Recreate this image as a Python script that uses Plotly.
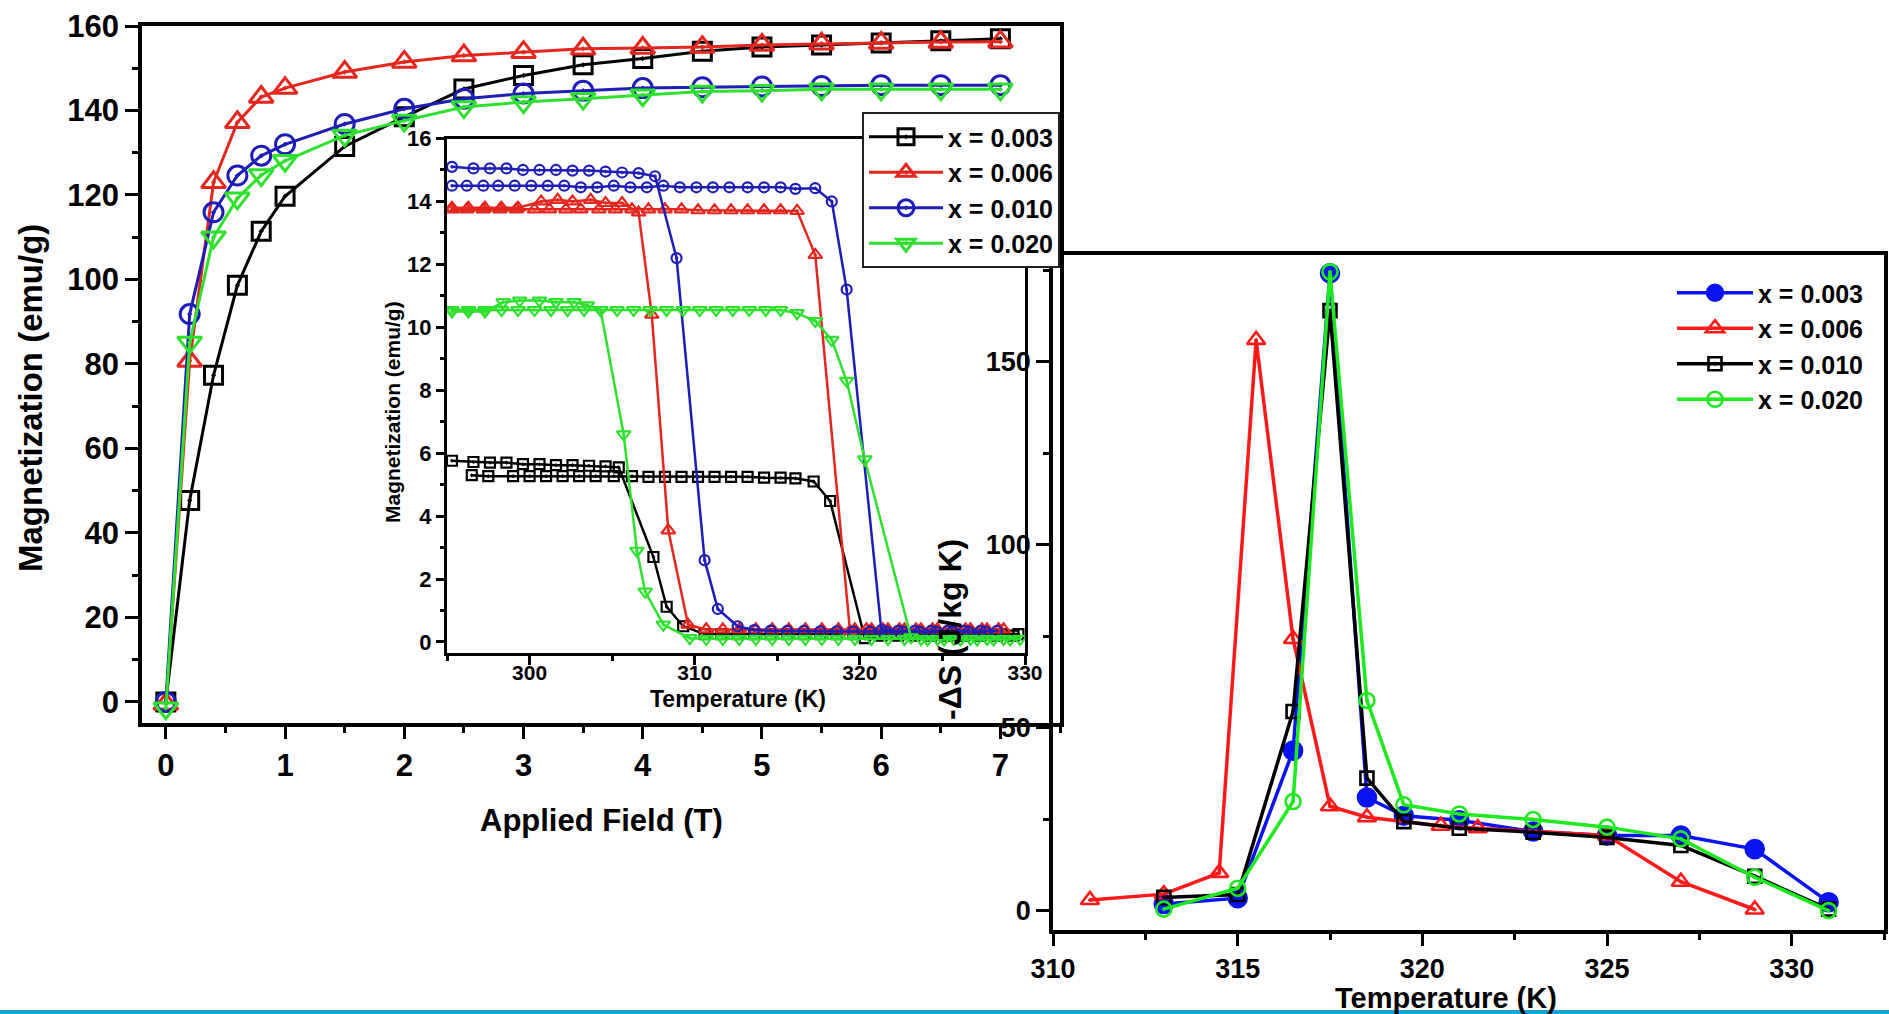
import plotly.graph_objects as go

# ---------------- Main panel: M vs H ----------------
H = [0, 0.2, 0.4, 0.6, 0.8, 1.0, 1.5, 2.0, 2.5, 3.0, 3.5, 4.0, 4.5, 5.0, 5.5, 6.0, 6.5, 7.0]
M_003 = [0, 47.7, 77.3, 98.6, 111.4, 119.7, 131.5, 138.5, 145.1, 148.3, 150.8, 152.3, 154.0, 155.0, 155.5, 156.0, 156.5, 157.0]
M_006 = [-0.5, 80.7, 123.0, 137.2, 143.2, 145.3, 149.1, 151.5, 153.0, 153.8, 154.6, 154.8, 155.0, 155.5, 155.8, 156.0, 156.2, 156.3]
M_010 = [0, 91.8, 115.9, 124.6, 129.3, 132.0, 136.8, 140.4, 142.8, 144.0, 144.7, 145.3, 145.5, 145.7, 145.8, 146.0, 146.0, 146.0]
M_020 = [-1.5, 85.1, 110.0, 119.2, 124.7, 128.1, 134.1, 137.6, 140.8, 142.0, 142.8, 143.6, 144.5, 144.7, 145.0, 145.0, 145.0, 145.0]
main_labels = ["x = 0.003", "x = 0.006", "x = 0.010", "x = 0.020"]

# ---------------- Inset: M vs T (two branches per sample) ----------------
T_bA = [295.3, 296.6, 297.6, 298.6, 299.6, 300.6, 301.6, 302.6, 303.6, 304.6, 305.4, 307.5, 308.3, 309.3,
        310.6, 311.6, 312.6, 313.6, 314.6, 315.6, 316.6, 317.6, 318.6, 319.6, 320.6, 321.6, 322.6, 323.6,
        324.6, 325.6, 326.6, 327.6, 328.6, 329.6]
M_bA = [5.76, 5.72, 5.7, 5.7, 5.65, 5.65, 5.62, 5.62, 5.6, 5.58, 5.55, 2.7, 1.12, 0.5,
        0.25, 0.25, 0.25, 0.25, 0.25, 0.25, 0.25, 0.25, 0.25, 0.25, 0.25, 0.25, 0.25, 0.25,
        0.25, 0.25, 0.25, 0.25, 0.25, 0.25]
T_bB = [296.5, 297.5, 299.0, 300.0, 301.0, 302.0, 303.0, 304.0, 305.1, 306.2, 307.2, 308.2, 309.2, 310.2,
        311.2, 312.2, 313.2, 314.2, 315.2, 316.1, 317.2, 318.2, 320.3, 321.3, 322.3, 323.3, 324.3, 325.3,
        326.3, 327.3, 328.3, 329.3]
M_bB = [5.3, 5.27, 5.27, 5.27, 5.27, 5.27, 5.27, 5.27, 5.27, 5.27, 5.25, 5.25, 5.25, 5.25,
        5.25, 5.25, 5.25, 5.22, 5.22, 5.2, 5.1, 4.48, 0.12, 0.2, 0.2, 0.2, 0.2, 0.2,
        0.2, 0.2, 0.2, 0.2]

T_rA = [295.3, 296.3, 297.3, 298.3, 299.3, 300.7, 301.7, 302.6, 303.7, 304.6, 305.6, 306.6, 307.4, 308.4,
        309.6, 310.7, 311.7, 312.7, 313.7, 314.7, 315.7, 316.7, 317.7, 318.7, 319.7, 320.7, 321.7, 322.7,
        323.7, 324.7, 325.7, 326.7, 327.7, 328.7]
M_rA = [13.8, 13.8, 13.8, 13.8, 13.8, 14.0, 14.05, 14.0, 14.05, 13.95, 13.95, 13.65, 10.4, 3.55,
        0.55, 0.4, 0.4, 0.4, 0.4, 0.4, 0.4, 0.4, 0.4, 0.4, 0.4, 0.4, 0.4, 0.4,
        0.4, 0.4, 0.4, 0.4, 0.4, 0.4]
T_rB = [295.3, 296.2, 297.2, 298.2, 299.2, 300.3, 301.2, 302.2, 303.1, 304.2, 305.2, 306.2, 307.2, 308.2,
        309.2, 310.2, 311.2, 312.2, 313.2, 314.2, 315.2, 316.2, 317.3, 319.4, 320.4, 321.4, 322.4, 323.4,
        324.4, 325.4, 326.4, 327.4, 328.4]
M_rB = [13.75, 13.75, 13.75, 13.75, 13.75, 13.75, 13.75, 13.75, 13.75, 13.75, 13.75, 13.75, 13.75, 13.75,
        13.75, 13.72, 13.72, 13.72, 13.72, 13.72, 13.72, 13.7, 12.3, 0.35, 0.4, 0.4, 0.4, 0.4,
        0.4, 0.4, 0.4, 0.4, 0.4]

T_uA = [295.3, 296.6, 297.6, 298.6, 299.6, 300.6, 301.6, 302.6, 303.6, 304.6, 305.6, 306.6, 307.6, 308.9,
        310.6, 311.4, 312.6, 313.6, 314.6, 315.6, 316.6, 317.6, 318.6, 319.6, 320.6, 321.6, 322.6, 323.6,
        324.6, 325.6, 326.6, 327.6]
M_uA = [15.1, 15.05, 15.05, 15.05, 15.0, 15.0, 15.0, 14.98, 14.98, 14.95, 14.92, 14.9, 14.8, 12.2,
        2.6, 1.05, 0.5, 0.38, 0.36, 0.35, 0.35, 0.34, 0.34, 0.33, 0.33, 0.33, 0.33, 0.33,
        0.33, 0.33, 0.33, 0.33]
T_uB = [295.3, 296.2, 297.2, 298.1, 299.1, 300.1, 301.1, 302.1, 303.1, 304.1, 305.1, 306.1, 307.1, 308.1,
        309.1, 310.1, 311.1, 312.1, 313.2, 314.2, 315.2, 316.1, 317.3, 318.3, 319.2, 321.3, 322.3, 323.3,
        324.3, 325.3, 326.3, 327.3, 328.3]
M_uB = [14.5, 14.5, 14.5, 14.5, 14.5, 14.5, 14.5, 14.5, 14.45, 14.45, 14.5, 14.45, 14.45, 14.5,
        14.45, 14.45, 14.45, 14.45, 14.45, 14.45, 14.45, 14.4, 14.42, 14.0, 11.2, 0.38, 0.35, 0.35,
        0.35, 0.35, 0.35, 0.35, 0.35]

T_gA = [295.3, 296.3, 297.3, 298.4, 299.4, 300.6, 301.6, 302.7, 303.5, 304.3, 305.7, 306.5, 307.0, 308.1,
        309.7, 310.7, 311.7, 312.7, 313.7, 314.7, 315.7, 316.7, 317.7, 318.7, 319.7, 320.7, 321.7, 322.7,
        323.7, 324.7, 325.7, 326.7, 327.7, 328.7, 329.7]
M_gA = [10.5, 10.5, 10.5, 10.8, 10.85, 10.85, 10.8, 10.8, 10.7, 10.55, 6.6, 2.9, 1.6, 0.55,
        0.12, 0.1, 0.1, 0.1, 0.1, 0.1, 0.1, 0.1, 0.1, 0.1, 0.1, 0.1, 0.1, 0.1,
        0.1, 0.1, 0.1, 0.1, 0.1, 0.1, 0.1]
T_gB = [295.3, 296.3, 297.3, 298.3, 299.3, 300.3, 301.3, 302.3, 303.3, 304.3, 305.3, 306.3, 307.3, 308.3,
        309.3, 310.3, 311.3, 312.3, 313.3, 314.3, 315.2, 316.2, 317.3, 318.3, 319.2, 320.3, 323.1, 324.1,
        325.1, 326.1, 327.1, 328.1, 329.1]
M_gB = [10.55, 10.55, 10.55, 10.55, 10.55, 10.55, 10.55, 10.55, 10.55, 10.55, 10.55, 10.55, 10.55, 10.55,
        10.55, 10.55, 10.55, 10.55, 10.55, 10.55, 10.55, 10.45, 10.2, 9.6, 8.3, 5.8, 0.15, 0.08,
        0.08, 0.08, 0.08, 0.08, 0.08]

# ---------------- Right panel: -dS vs T ----------------
T_s003 = [313, 315, 316.5, 317.5, 318.5, 319.5, 321, 323, 325, 327, 329, 331]
S_003 = [1.9, 3.5, 43.8, 174.2, 31.0, 26.0, 24.8, 21.7, 20.6, 20.6, 16.9, 2.4]
T_s006 = [311, 313, 314.5, 315.5, 316.5, 317.5, 318.5, 320.5, 321.5, 325, 327, 329]
S_006 = [3.0, 4.6, 10.4, 156.0, 74.3, 28.6, 25.6, 23.3, 22.6, 20.6, 8.0, 0.4]
T_s010 = [313, 315, 316.5, 317.5, 318.5, 319.5, 321, 323, 325, 327, 329, 331]
S_010 = [3.7, 4.5, 54.5, 164.0, 36.3, 24.4, 22.6, 21.5, 20.1, 17.9, 9.5, 0.5]
T_s020 = [313, 315, 316.5, 317.5, 318.5, 319.5, 321, 323, 325, 327, 329, 331]
S_020 = [0.5, 6.2, 29.9, 174.6, 57.5, 29.0, 26.5, 25.0, 22.9, 19.7, 9.2, 0.1]

W, HGT = 1889, 1014
FONT = "Liberation Sans, Arial, sans-serif"

def px_x(p):
    return p / W

def px_y(p):
    return 1 - p / HGT

fig = go.Figure()

# main panel traces
main_cols = ["#000000", "#e3261e", "#1d1db8", "#2fe02f"]
main_sym = ["square-open-dot", "triangle-up-open-dot", "circle-open-dot", "triangle-down-open-dot"]
main_size = [18, 21, 19, 21]
for ys, lab, c, s, sz in zip([M_003, M_006, M_010, M_020], main_labels, main_cols, main_sym, main_size):
    fig.add_trace(go.Scatter(x=H, y=ys, name=lab, mode="lines+markers", xaxis="x", yaxis="y",
                             line=dict(color=c, width=3),
                             marker=dict(symbol=s, size=sz, color=c, line=dict(width=3, color=c)),
                             cliponaxis=False, legend="legend"))

# inset traces
inset_sets = [
    (T_bA, M_bA, "#000000", "square-open-dot", 10),
    (T_bB, M_bB, "#000000", "square-open-dot", 10),
    (T_rA, M_rA, "#e3261e", "triangle-up-open-dot", 12),
    (T_rB, M_rB, "#e3261e", "triangle-up-open-dot", 12),
    (T_uA, M_uA, "#1d1db8", "circle-open-dot", 10),
    (T_uB, M_uB, "#1d1db8", "circle-open-dot", 10),
    (T_gA, M_gA, "#2fe02f", "triangle-down-open-dot", 12),
    (T_gB, M_gB, "#2fe02f", "triangle-down-open-dot", 12),
]
for tx, my, c, s, sz in inset_sets:
    fig.add_trace(go.Scatter(x=tx, y=my, mode="lines+markers", xaxis="x2", yaxis="y2",
                             line=dict(color=c, width=2.5),
                             marker=dict(symbol=s, size=sz, color=c, line=dict(width=2.2, color=c)),
                             showlegend=False, cliponaxis=False))

# right panel traces
right_sets = [
    (T_s003, S_003, "x = 0.003", "#0a14f0", "circle", 18),
    (T_s006, S_006, "x = 0.006", "#ff1a1a", "triangle-up-open-dot", 16),
    (T_s010, S_010, "x = 0.010", "#000000", "square-open-dot", 13),
    (T_s020, S_020, "x = 0.020", "#1ee81e", "circle-open-dot", 15),
]
for tx, sy, lab, c, s, sz in right_sets:
    fig.add_trace(go.Scatter(x=tx, y=sy, name=lab, mode="lines+markers", xaxis="x3", yaxis="y3",
                             line=dict(color=c, width=3.5),
                             marker=dict(symbol=s, size=sz, color=c, line=dict(width=2.6, color=c)),
                             cliponaxis=False, legend="legend2"))

axcommon = dict(showline=True, linecolor="black", mirror=True, ticks="outside",
                tickcolor="black", showgrid=False, zeroline=False, automargin=False)

fig.update_layout(
    template="none",
    width=W, height=HGT,
    margin=dict(l=0, r=0, t=0, b=0, pad=0, autoexpand=False),
    paper_bgcolor="white", plot_bgcolor="rgba(0,0,0,0)",
    font=dict(family=FONT, color="black"),
    xaxis=dict(domain=[px_x(142), px_x(1060)], range=[-0.2, 7.5], anchor="y",
               tickvals=[0, 1, 2, 3, 4, 5, 6, 7], ticklen=12, tickwidth=3, linewidth=3.5,
               minor=dict(tickvals=[0.5, 1.5, 2.5, 3.5, 4.5, 5.5, 6.5, 7.5], ticklen=6, tickwidth=3, ticks="outside"),
               tickfont=dict(size=31, weight="bold"), **axcommon),
    yaxis=dict(domain=[px_y(723), px_y(26)], range=[-5, 160], anchor="x",
               tickvals=[0, 20, 40, 60, 80, 100, 120, 140, 160], ticklen=13, tickwidth=3, linewidth=3.5,
               minor=dict(tickvals=[10, 30, 50, 70, 90, 110, 130, 150], ticklen=6, tickwidth=3, ticks="outside"),
               tickfont=dict(size=31, weight="bold"), **axcommon),
    xaxis2=dict(domain=[px_x(447), px_x(1025)], range=[295, 330], anchor="y2",
                tickvals=[300, 310, 320, 330], ticklen=9, tickwidth=2.5, linewidth=3,
                minor=dict(tickvals=[295, 305, 315, 325], ticklen=5, tickwidth=2.5, ticks="outside"),
                ticklabelstandoff=-10,
                tickfont=dict(size=21, weight="bold"), **axcommon),
    yaxis2=dict(domain=[px_y(653), px_y(138.5)], range=[-0.35, 16], anchor="x2",
                tickvals=[0, 2, 4, 6, 8, 10, 12, 14, 16], ticklen=8, tickwidth=2.5, linewidth=3,
                minor=dict(tickvals=[1, 3, 5, 7, 9, 11, 13, 15], ticklen=4, tickwidth=2.5, ticks="outside"),
                tickfont=dict(size=22, weight="bold"), **axcommon),
    xaxis3=dict(domain=[px_x(1053), px_x(1884)], range=[310, 332.5], anchor="y3",
                tickvals=[310, 315, 320, 325, 330], ticklen=12, tickwidth=3, linewidth=3.5,
                minor=dict(tickvals=[312.5, 317.5, 322.5, 327.5, 332.5], ticklen=6, tickwidth=3, ticks="outside"),
                tickfont=dict(size=27, weight="bold"), **axcommon),
    yaxis3=dict(domain=[px_y(930), px_y(255)], range=[-5.2, 179.2], anchor="x3",
                tickvals=[0, 50, 100, 150], ticklen=13, tickwidth=3, linewidth=3.5,
                minor=dict(tickvals=[25, 75, 125, 175], ticklen=6, tickwidth=3, ticks="outside"),
                tickfont=dict(size=27, weight="bold"), **axcommon),
    legend=dict(x=px_x(862), y=px_y(112), xanchor="left", yanchor="top",
                bgcolor="white", bordercolor="#222222", borderwidth=2,
                font=dict(size=25, weight="bold", family=FONT), itemwidth=74,
                tracegroupgap=0),
    legend2=dict(x=px_x(1672), y=px_y(270), xanchor="left", yanchor="top",
                 bgcolor="rgba(0,0,0,0)", borderwidth=0,
                 font=dict(size=25, weight="bold", family=FONT), itemwidth=76),
    showlegend=True,
)

def title_ann(text, x, y, size, angle=0):
    fig.add_annotation(text=text, x=px_x(x), y=px_y(y), xref="paper", yref="paper",
                       showarrow=False, textangle=angle, xanchor="center", yanchor="middle",
                       font=dict(size=size, weight="bold", family=FONT, color="black"))

title_ann("Magnetization (emu/g)", 30, 398, 33, -90)
title_ann("Applied Field (T)", 601, 820, 31)
title_ann("Magnetization (emu/g)", 392, 412, 21, -90)
title_ann("Temperature (K)", 738, 699, 23)
title_ann("-ΔS (J/kg K)", 950, 630, 32, -90)
title_ann("Temperature (K)", 1446, 998, 29)

# thin cyan rule along the bottom edge of the figure
fig.add_shape(type="rect", xref="paper", yref="paper", x0=0, x1=1, y0=0, y1=4 / HGT,
              fillcolor="#1aa3d9", line=dict(width=0), layer="above")

fig.write_html("out.html")
